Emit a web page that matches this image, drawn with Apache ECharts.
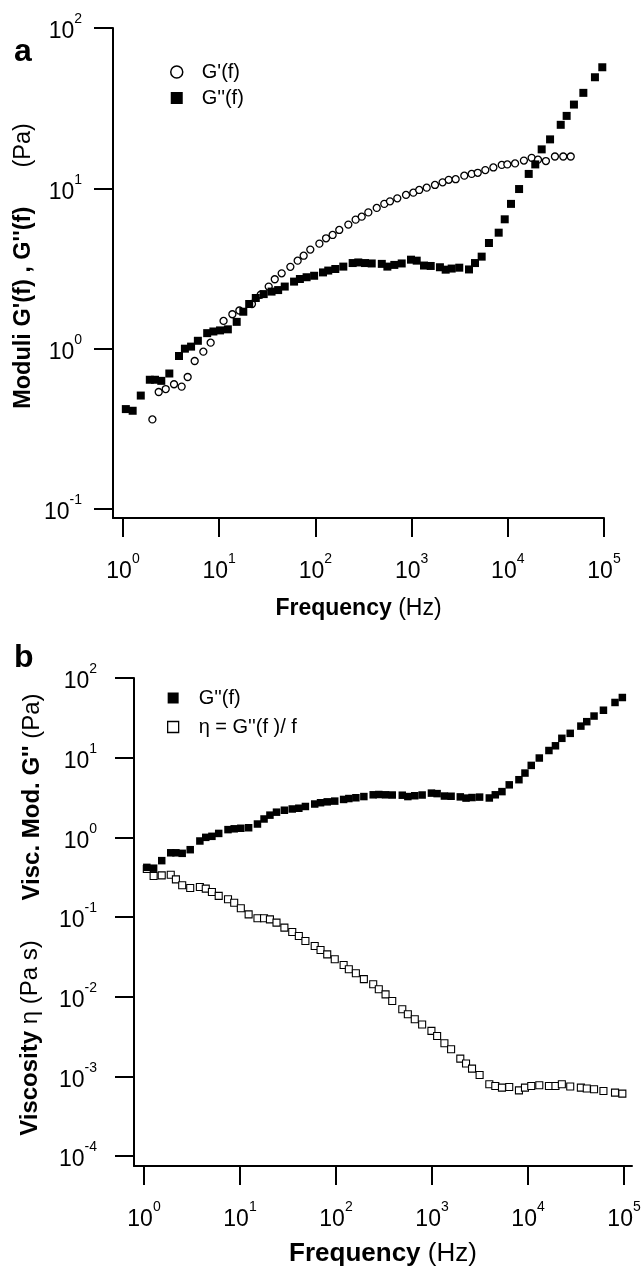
<!DOCTYPE html>
<html>
<head>
<meta charset="utf-8">
<script src="https://cdn.jsdelivr.net/npm/echarts@6/dist/echarts.min.js"></script>
<style>
  html, body { margin: 0; padding: 0; background: #fff; }
  #chart { width: 643px; height: 1270px; }
</style>
</head>
<body>
<div id="chart"></div>
<script>
// frequencies (Hz) of the loss modulus / viscosity sweep
const freqLoss = [1.07, 1.26, 1.53, 1.9, 2.15, 2.5, 3.03, 3.82, 4.4, 5.1,
  6.0, 7.5, 8.7, 10.2, 12.3, 15.2, 17.8, 20.5, 24, 29,
  35, 41, 48, 60, 69, 81, 97, 120, 136, 161,
  195, 244, 279, 328, 385, 490, 560, 661, 789, 986,
  1130, 1346, 1580, 1970, 2260, 2610, 3130, 3950, 4560, 5350,
  6370, 8040, 9290, 10800, 13100, 16500, 19300, 22500, 27500, 35500,
  40900, 48700, 61000, 80500, 96000]
// G''(f) in Pa
const lossModulus = [0.42, 0.41, 0.51, 0.64, 0.64, 0.63, 0.70, 0.90, 1.0, 1.03,
  1.12, 1.25, 1.28, 1.30, 1.32, 1.47, 1.70, 1.90, 2.07, 2.19,
  2.27, 2.32, 2.44, 2.62, 2.72, 2.79, 2.85, 2.99, 3.07, 3.14,
  3.25, 3.42, 3.45, 3.42, 3.40, 3.38, 3.25, 3.33, 3.40, 3.59,
  3.54, 3.30, 3.28, 3.22, 3.11, 3.16, 3.20, 3.12, 3.42, 3.75,
  4.56, 5.29, 6.41, 8.0, 9.9, 12.3, 14.1, 17.5, 20.2, 24.9,
  28.3, 33.3, 39.4, 49.3, 56.9]
// eta in Pa s
const viscosity = [0.40, 0.327, 0.333, 0.34, 0.297, 0.25, 0.231, 0.238, 0.227, 0.206,
  0.184, 0.167, 0.151, 0.129, 0.108, 0.0964, 0.0964, 0.0935, 0.085, 0.0736,
  0.0649, 0.0578, 0.050, 0.0433, 0.0385, 0.034, 0.0295, 0.025, 0.0221, 0.0197,
  0.0166, 0.0143, 0.0124, 0.0107, 0.00883, 0.00695, 0.00601, 0.0052, 0.00447, 0.00372,
  0.00321, 0.0026, 0.00219, 0.00167, 0.00145, 0.00125, 0.00104, 0.000796, 0.000758, 0.000723,
  0.000736, 0.000668, 0.000723, 0.000758, 0.000773, 0.000758, 0.000758, 0.000796, 0.000745, 0.000723,
  0.000703, 0.000689, 0.000656, 0.000626, 0.000608]
// storage modulus sweep
const freqStorage = [2.02, 2.35, 2.78, 3.39, 4.07, 4.7, 5.56, 6.84, 8.15, 11.1,
  13.7, 16.2, 21.9, 27, 32.7, 37.8, 44.6, 54.9, 65.4, 75.5,
  88.5, 110, 129, 151, 177, 220, 262, 303, 355, 434,
  520, 596, 710, 875, 1042, 1200, 1435, 1750, 2100, 2430,
  2870, 3530, 4210, 4870, 5840, 7080, 8650, 9890, 11900, 14700,
  17700, 20600, 24900, 30900, 37700, 45100]
const storageModulus = [0.362, 0.537, 0.56, 0.60, 0.58, 0.666, 0.838, 0.958, 1.09, 1.49,
  1.64, 1.73, 1.90, 2.17, 2.44, 2.71, 2.95, 3.24, 3.54, 3.80,
  4.15, 4.52, 4.88, 5.12, 5.5, 5.94, 6.38, 6.66, 7.08, 7.55,
  8.0, 8.3, 8.66, 9.1, 9.4, 9.77, 10.1, 10.5, 10.9, 11.3,
  11.4, 12.0, 12.3, 12.5, 13.0, 13.5, 14.0, 14.1, 14.3, 14.9,
  15.5, 15.1, 14.8, 15.8, 15.8, 15.8]

const freqTicks = [1, 10, 100, 1000, 10000, 100000]
const moduliTicks = [0.1, 1, 10, 100]
const viscTicks = [0.0001, 0.001, 0.01, 0.1, 1, 10, 100]

const FONT = '"Liberation Sans", Arial, Helvetica, sans-serif'
const BLACK = '#000'

const zip = (xs, ys) => xs.map((x, i) => [x, ys[i]])

const powLabel = (v) => '{m|10}{s|' + Math.round(Math.log10(v)) + '}'

const labelRich = {
  m: { fontSize: 23, fontFamily: FONT, color: BLACK, verticalAlign: 'bottom', padding: [8, 0, 0, 0] },
  s: { fontSize: 14, fontFamily: FONT, color: BLACK, verticalAlign: 'top' },
}

const logAxis = (opts) => ({
  type: 'log',
  logBase: 10,
  axisLine: { show: true, onZero: false, lineStyle: { color: BLACK, width: 2 } },
  axisTick: { show: true, length: 19, customValues: opts.ticks, lineStyle: { color: BLACK, width: 2 } },
  minorTick: { show: false },
  splitLine: { show: false },
  axisLabel: {
    customValues: opts.ticks,
    formatter: powLabel,
    rich: labelRich,
    margin: opts.margin,
  },
  ...opts.extra,
})

const freqName = (size) => ({
  name: '{b|Frequency}{n| (Hz)}',
  nameLocation: 'middle',
  nameTextStyle: {
    rich: {
      b: { fontSize: size, fontWeight: 'bold', fontFamily: FONT, color: BLACK },
      n: { fontSize: size, fontFamily: FONT, color: BLACK },
    },
  },
})

const chart = echarts.init(document.getElementById('chart'), null, { renderer: 'canvas' })

chart.setOption({
  animation: false,
  backgroundColor: '#fff',
  grid: [
    { left: 113, top: 28, width: 491, height: 490, outerBoundsMode: 'none', containLabel: false },
    { left: 134, top: 678, width: 498, height: 488, outerBoundsMode: 'none', containLabel: false },
  ],
  xAxis: [
    logAxis({ ticks: freqTicks, margin: 34, extra: { gridIndex: 0, min: 0.787, max: 100000, ...freqName(23), nameGap: 79 } }),
    logAxis({ ticks: freqTicks, margin: 34, extra: { gridIndex: 1, min: 0.787, max: 121000, ...freqName(26), nameGap: 75 } }),
  ],
  yAxis: [
    logAxis({ ticks: moduliTicks, margin: 31, extra: { gridIndex: 0, min: 0.0879, max: 100 } }),
    logAxis({ ticks: viscTicks, margin: 37, extra: { gridIndex: 1, min: 0.0000750, max: 100 } }),
  ],
  legend: [
    {
      data: ["G'(f)", "G''(f)"],
      orient: 'vertical', left: 165, top: 57,
      itemWidth: 12, itemHeight: 12, itemGap: 6,
      selectedMode: false,
      itemStyle: { borderWidth: 1.5, opacity: 1 },
      textStyle: { fontSize: 20, fontFamily: FONT, color: BLACK, padding: [0, 0, 0, 14] },
    },
    {
      data: ["G''(f)", 'η = G\'\'(f )/ f'],
      orient: 'vertical', left: 162, top: 683,
      itemWidth: 11, itemHeight: 11, itemGap: 9,
      selectedMode: false,
      itemStyle: { borderWidth: 1.3, opacity: 1 },
      textStyle: { fontSize: 20, fontFamily: FONT, color: BLACK, padding: [0, 0, 0, 15] },
    },
  ],
  graphic: [
    { type: 'text', x: 14, y: 52, style: { text: 'a', font: 'bold 32px ' + FONT, fill: BLACK, verticalAlign: 'middle' } },
    { type: 'text', x: 14, y: 658, style: { text: 'b', font: 'bold 32px ' + FONT, fill: BLACK, verticalAlign: 'middle' } },
    {
      type: 'text', x: 24, y: 266, rotation: Math.PI / 2,
      style: {
        text: "{b|Moduli G'(f) , G''(f)}{n|      (Pa)}",
        align: 'center', verticalAlign: 'middle',
        rich: {
          b: { fontSize: 23.5, fontWeight: 'bold', fontFamily: FONT, fill: BLACK },
          n: { fontSize: 23.5, fontFamily: FONT, fill: BLACK },
        },
      },
    },
    {
      type: 'text', x: 32, y: 797, rotation: Math.PI / 2,
      style: {
        text: "{b|Visc. Mod. G''}{n| (Pa)}",
        align: 'center', verticalAlign: 'middle',
        rich: {
          b: { fontSize: 24, fontWeight: 'bold', fontFamily: FONT, fill: BLACK },
          n: { fontSize: 24, fontFamily: FONT, fill: BLACK },
        },
      },
    },
    {
      type: 'text', x: 30, y: 1038, rotation: Math.PI / 2,
      style: {
        text: '{b|Viscosity}{n| η (Pa s)}',
        align: 'center', verticalAlign: 'middle',
        rich: {
          b: { fontSize: 24, fontWeight: 'bold', fontFamily: FONT, fill: BLACK },
          n: { fontSize: 24, fontFamily: FONT, fill: BLACK },
        },
      },
    },
  ],
  series: [
    {
      name: "G'(f)", type: 'scatter', xAxisIndex: 0, yAxisIndex: 0,
      data: zip(freqStorage, storageModulus),
      symbol: 'circle', symbolSize: 7,
      itemStyle: { color: '#fff', borderColor: BLACK, borderWidth: 1.3, opacity: 1 },
      emphasis: { disabled: true },
    },
    {
      name: "G''(f)", type: 'scatter', xAxisIndex: 0, yAxisIndex: 0,
      data: zip(freqLoss, lossModulus),
      symbol: 'rect', symbolSize: 8,
      itemStyle: { color: BLACK, opacity: 1 },
      emphasis: { disabled: true },
    },
    {
      name: 'η = G\'\'(f )/ f', type: 'scatter', xAxisIndex: 1, yAxisIndex: 1,
      data: zip(freqLoss, viscosity),
      symbol: 'rect', symbolSize: 7,
      itemStyle: { color: '#fff', borderColor: BLACK, borderWidth: 1.1, opacity: 1 },
      emphasis: { disabled: true },
    },
    {
      name: "G''(f)", type: 'scatter', xAxisIndex: 1, yAxisIndex: 1,
      data: zip(freqLoss, lossModulus),
      symbol: 'rect', symbolSize: 7.5,
      itemStyle: { color: BLACK, opacity: 1 },
      emphasis: { disabled: true },
    },
  ],
})
</script>
</body>
</html>
